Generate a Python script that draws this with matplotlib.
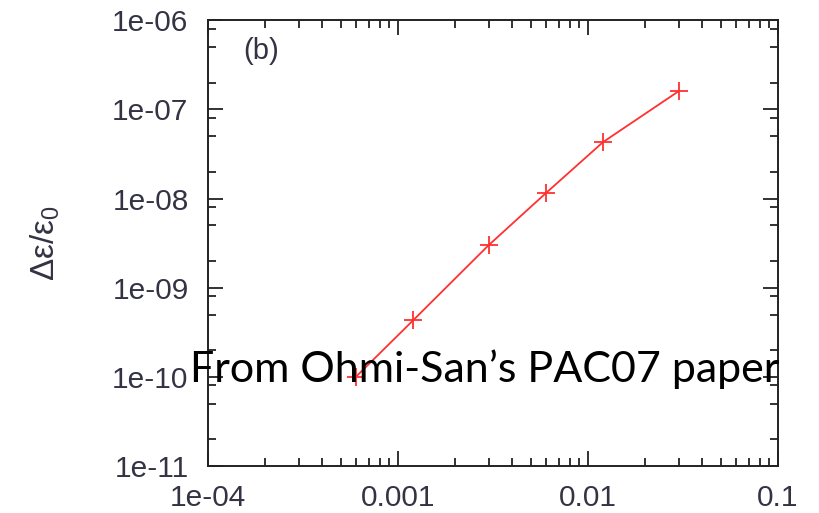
import matplotlib
matplotlib.use('Agg')
import matplotlib.pyplot as plt
from matplotlib.ticker import LogLocator, NullFormatter, FixedFormatter, FixedLocator

# data
amplitude = [0.0006, 0.0012, 0.003, 0.006, 0.012, 0.03]
emit_growth = [1.0e-10, 4.3e-10, 3.0e-9, 1.15e-8, 4.3e-8, 1.6e-7]

x_ticks = [1e-4, 1e-3, 1e-2, 1e-1]
x_labels = ['1e-04', '0.001', '0.01', '0.1']
y_ticks = [1e-11, 1e-10, 1e-9, 1e-8, 1e-7, 1e-6]
y_labels = ['1e-11', '1e-10', '1e-09', '1e-08', '1e-07', '1e-06']

plt.rcParams['font.family'] = ['Liberation Sans', 'DejaVu Sans']
plt.rcParams['mathtext.fontset'] = 'custom'
plt.rcParams['mathtext.rm'] = 'Liberation Sans'
plt.rcParams['mathtext.it'] = 'Liberation Sans'

fig = plt.figure(figsize=(8.19, 5.13), dpi=100)
ax = fig.add_axes([0.254, 0.0916, 0.696, 0.869])

ax.plot(amplitude, emit_growth, color='#ff3030', lw=1.3, marker='+',
        ms=13, mew=1.3)

ax.set_xscale('log')
ax.set_yscale('log')
ax.set_xlim(1e-4, 1e-1)
ax.set_ylim(1e-11, 1e-6)

ax.xaxis.set_major_locator(FixedLocator(x_ticks))
ax.xaxis.set_major_formatter(FixedFormatter(x_labels))
ax.yaxis.set_major_locator(FixedLocator(y_ticks))
ax.yaxis.set_major_formatter(FixedFormatter(y_labels))
ax.xaxis.set_minor_locator(LogLocator(base=10, subs=range(2, 10)))
ax.yaxis.set_minor_locator(LogLocator(base=10, subs=(2, 5, 8)))
ax.xaxis.set_minor_formatter(NullFormatter())
ax.yaxis.set_minor_formatter(NullFormatter())

ax.tick_params(which='both', direction='in', top=True, right=True,
               width=1.3, colors='#222222', labelcolor='#333344')
ax.tick_params(which='major', length=11, labelsize=21.5)
ax.tick_params(which='minor', length=6)
ax.tick_params(axis='y', which='major', pad=14)
ax.tick_params(axis='x', which='major', pad=13)
for s in ax.spines.values():
    s.set_linewidth(1.4)
    s.set_color('#222222')

ax.set_ylabel(r'$\Delta\varepsilon/\varepsilon_0$', fontsize=24,
              color='#333344', labelpad=36)

ax.text(0.062, 0.93, '(b)', transform=ax.transAxes, fontsize=21,
        color='#333344', ha='left', va='center')

fig.text(190 / 819, 1 - 382 / 513, 'From Ohmi-San\u2019s PAC07 paper',
         fontsize=31, family=['Lato', 'DejaVu Sans'], color='black',
         ha='left', va='baseline')

fig.savefig('out.png', dpi=100)
